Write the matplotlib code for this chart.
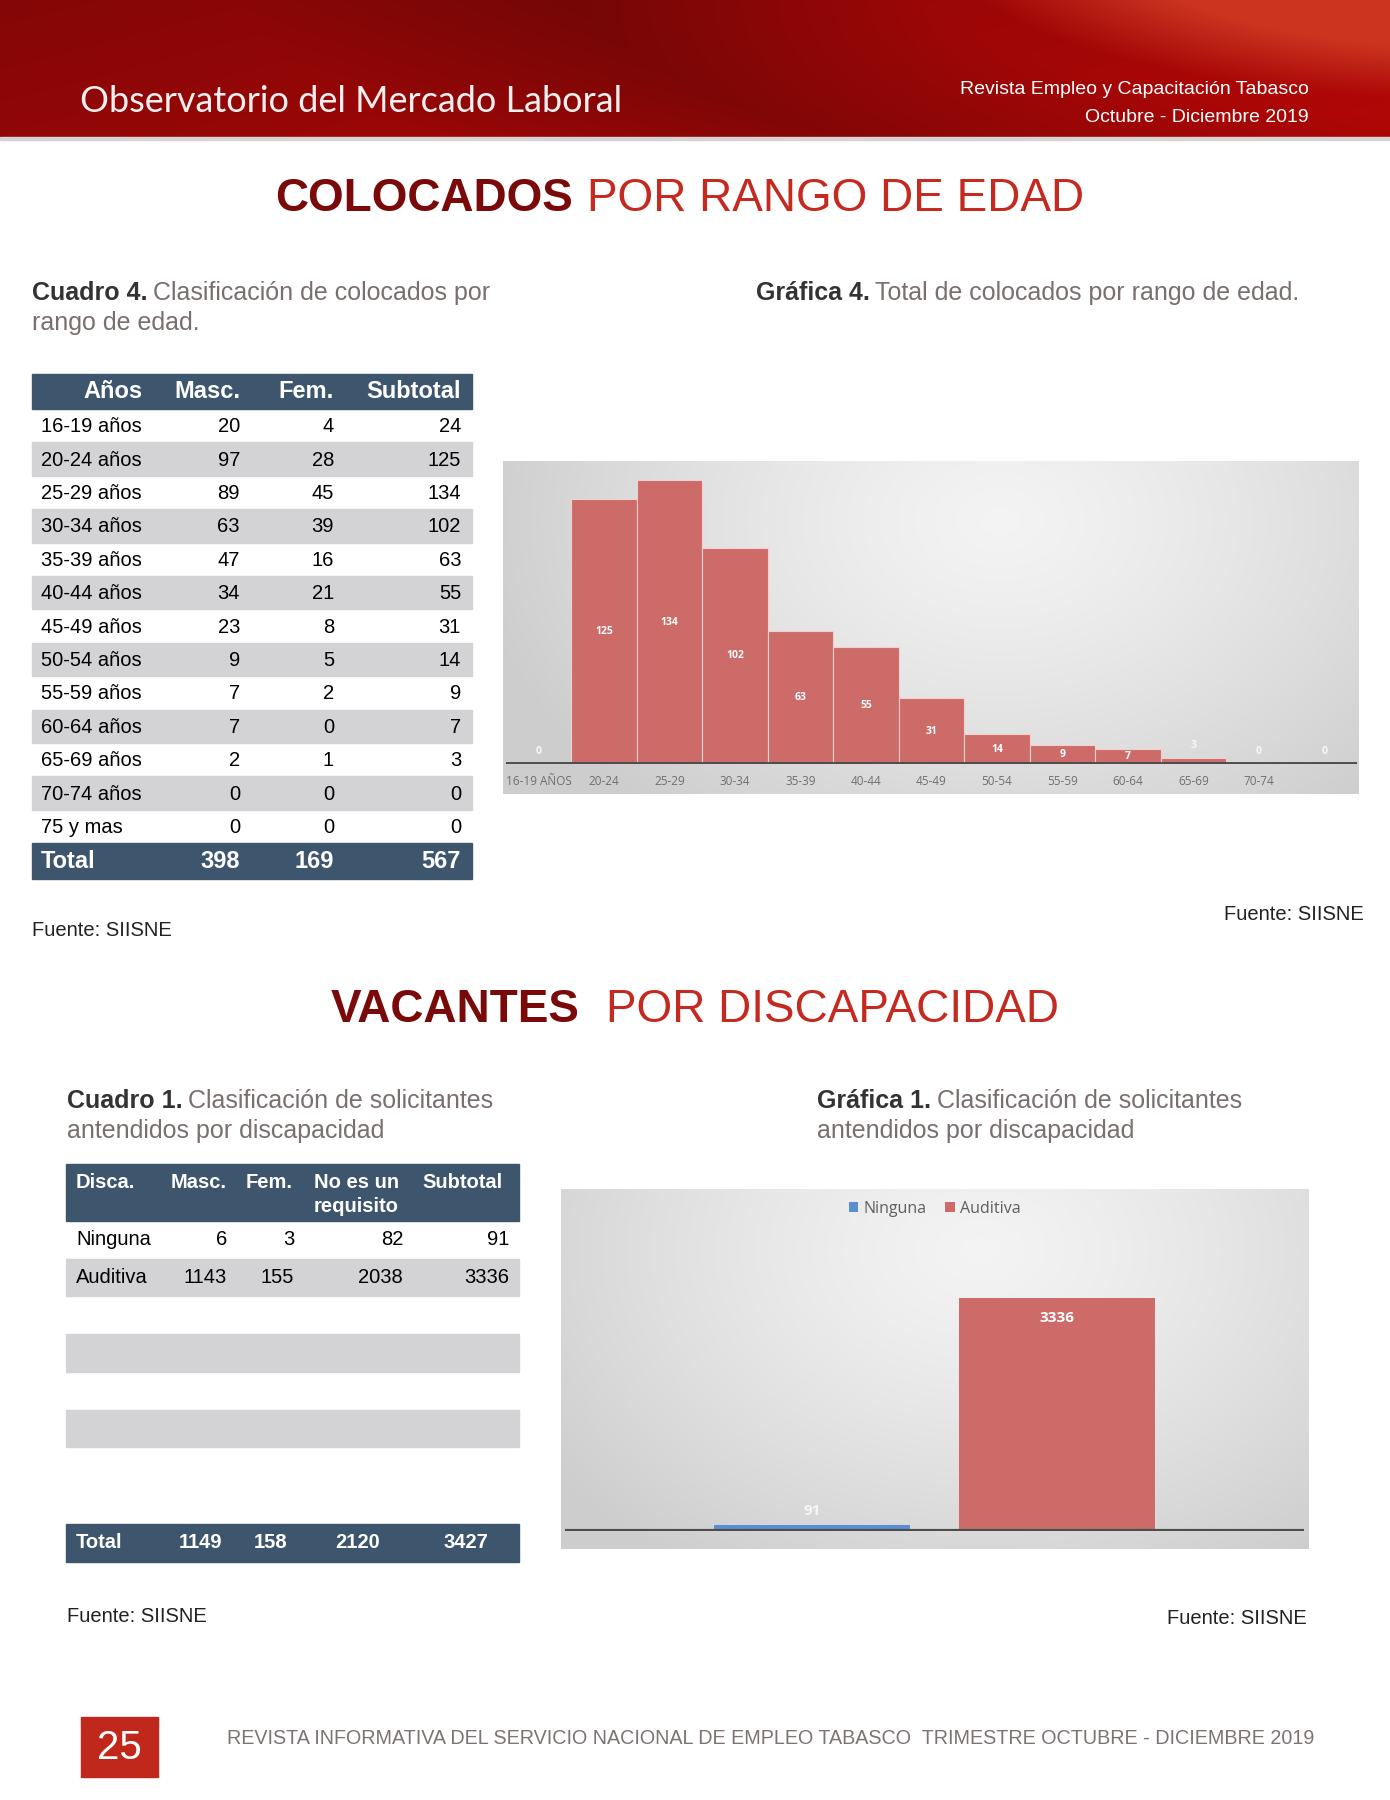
import numpy as np
import matplotlib
matplotlib.use("Agg")
import matplotlib.pyplot as plt
from matplotlib.patches import Rectangle

# ---- data ----
edad_rangos = ['16-19 años', '20-24 años', '25-29 años', '30-34 años', '35-39 años',
               '40-44 años', '45-49 años', '50-54 años', '55-59 años', '60-64 años',
               '65-69 años', '70-74 años', '75 y mas']
edad_masc = [20, 97, 89, 63, 47, 34, 23, 9, 7, 7, 2, 0, 0]
edad_fem = [4, 28, 45, 39, 16, 21, 8, 5, 2, 0, 1, 0, 0]
edad_sub = [24, 125, 134, 102, 63, 55, 31, 14, 9, 7, 3, 0, 0]
edad_tot = [398, 169, 567]

graf4_labels = ['16-19 AÑOS', '20-24', '25-29', '30-34', '35-39', '40-44', '45-49',
                '50-54', '55-59', '60-64', '65-69', '70-74', '']
graf4_vals = [0, 125, 134, 102, 63, 55, 31, 14, 9, 7, 3, 0, 0]

disc_tipos = ['Ninguna', 'Auditiva']
disc_masc = [6, 1143]
disc_fem = [3, 155]
disc_noreq = [82, 2038]
disc_sub = [91, 3336]
disc_tot = [1149, 158, 2120, 3427]

W, H = 1390, 1800
FONT = 'Liberation Sans'
DARK_RED = '#7a0a0a'
RED = '#c42a1f'
SLATE = '#3d566e'
ROWGRAY = '#d3d3d5'
TXTGRAY = '#7a6f6f'
BAR_RED = '#cd6b69'

fig = plt.figure(figsize=(13.9, 18), dpi=100)
bg = fig.add_axes([0, 0, 1, 1], zorder=0)
bg.set_xlim(0, W)
bg.set_ylim(H, 0)
bg.axis('off')

# ---- header band ----
ys, xs = np.mgrid[0:138, 0:W].astype(float)
d = np.sqrt((xs - 1500) ** 2 + ((ys + 60) * 3.48) ** 2)
base = 0.52 + 0.13 * (xs / W) + 0.05 * (ys / 138)
dark = np.clip(1 - np.abs(d - 950) / 330, 0, 1)
bright = np.clip((560 - d) / 180, 0, 1)
r = base * (1 - 0.2 * dark) + bright * (0.80 - base)
g = 0.025 + bright * 0.18
b = 0.025 + bright * 0.10
hdr = np.dstack([r, g, b]).clip(0, 1)
bg.imshow(hdr, extent=(0, W, 138, 0), aspect='auto', zorder=1)
bg.add_patch(Rectangle((0, 137), W, 3, color='#d9d2d2', zorder=2))

bg.text(80, 101, 'Observatorio del Mercado Laboral', family='Lato', fontsize=26,
        color='#f4eeee', va='center', ha='left', zorder=3)
bg.text(1309, 90, 'Revista Empleo y Capacitación Tabasco', family=FONT, fontsize=14,
        color='white', ha='right', va='center', zorder=3)
bg.text(1309, 117, 'Octubre - Diciembre 2019', family=FONT, fontsize=14,
        color='white', ha='right', va='center', zorder=3)


def two_tone(x_split, x_start, y, bold_txt, rest_txt, size):
    bg.text(x_split, y, bold_txt, family=FONT, fontsize=size, weight='bold',
            color=DARK_RED, ha='right', va='center')
    bg.text(x_start, y, rest_txt, family=FONT, fontsize=size,
            color=RED, ha='left', va='center')


def caption(x, y, bold_txt, rest_txt, size=18):
    t = bg.text(x, y, bold_txt, family=FONT, fontsize=size, weight='bold',
                color='#333333', ha='left', va='center')
    bg.annotate(rest_txt, xy=(1, 0.5), xycoords=t, xytext=(4, 0),
                textcoords='offset points', family=FONT, fontsize=size,
                color=TXTGRAY, ha='left', va='center')


two_tone(573, 587, 199, 'COLOCADOS', 'POR RANGO DE EDAD', 33)
two_tone(580, 606, 1010, 'VACANTES', 'POR DISCAPACIDAD', 33)

caption(32, 293, 'Cuadro 4.', 'Clasificación de colocados por')
bg.text(32, 323, 'rango de edad.', family=FONT, fontsize=18, color=TXTGRAY, va='center')
caption(756, 293, 'Gráfica 4.', 'Total de colocados por rango de edad.')

caption(67, 1101, 'Cuadro 1.', 'Clasificación de solicitantes')
bg.text(67, 1131, 'antendidos por discapacidad', family=FONT, fontsize=18, color=TXTGRAY, va='center')
caption(817, 1101, 'Gráfica 1.', 'Clasificación de solicitantes')
bg.text(817, 1131, 'antendidos por discapacidad', family=FONT, fontsize=18, color=TXTGRAY, va='center')

# ---- table 4 ----
tx0, tx1 = 32, 472
bg.add_patch(Rectangle((tx0, 374), tx1 - tx0, 35, color=SLATE))
cols4 = [143, 240, 334, 461]
for x, h in zip(cols4, ['Años', 'Masc.', 'Fem.', 'Subtotal']):
    bg.text(x, 392, h, family=FONT, fontsize=17, weight='bold', color='white',
            ha='right', va='center')
pitch = 33.4
for i, lab in enumerate(edad_rangos):
    y0 = 409 + i * pitch
    if i % 2 == 1:
        bg.add_patch(Rectangle((tx0, y0), tx1 - tx0, pitch, color=ROWGRAY))
    yc = y0 + pitch / 2 + 1
    bg.text(41, yc, lab, family=FONT, fontsize=14.5, color='black', va='center')
    for x, v in zip(cols4[1:], [edad_masc[i], edad_fem[i], edad_sub[i]]):
        bg.text(x, yc, str(v), family=FONT, fontsize=14.5, color='black',
                ha='right', va='center')
bg.add_patch(Rectangle((tx0, 843), tx1 - tx0, 36, color=SLATE))
bg.text(41, 862, 'Total', family=FONT, fontsize=17, weight='bold', color='white', va='center')
for x, v in zip(cols4[1:], edad_tot):
    bg.text(x, 862, str(v), family=FONT, fontsize=17, weight='bold', color='white',
            ha='right', va='center')

bg.text(32, 930, 'Fuente: SIISNE', family=FONT, fontsize=14.5, color='#222222', va='center')
bg.text(1364, 915, 'Fuente: SIISNE', family=FONT, fontsize=14.5, color='#222222',
        ha='right', va='center')

# ---- table 1 (discapacidad) ----
ux0, ux1 = 66, 519
bg.add_patch(Rectangle((ux0, 1164), ux1 - ux0, 57, color=SLATE))
hk = dict(family=FONT, fontsize=14.5, weight='bold', color='white', va='center')
bg.text(76, 1182, 'Disca.', ha='left', **hk)
bg.text(227, 1182, 'Masc.', ha='right', **hk)
bg.text(293, 1182, 'Fem.', ha='right', **hk)
bg.text(314, 1182, 'No es un', ha='left', **hk)
bg.text(314, 1206, 'requisito', ha='left', **hk)
bg.text(503, 1182, 'Subtotal', ha='right', **hk)
rp = 37.7
cols1 = [227, 294, 403, 509]
for i in range(8):
    y0 = 1221 + i * rp
    if i % 2 == 1 and i < 7:
        bg.add_patch(Rectangle((ux0, y0), ux1 - ux0, rp, color=ROWGRAY))
for i, lab in enumerate(disc_tipos):
    yc = 1221 + i * rp + rp / 2
    bg.text(76, yc, lab, family=FONT, fontsize=14.5, color='black', va='center')
    for x, v in zip(cols1, [disc_masc[i], disc_fem[i], disc_noreq[i], disc_sub[i]]):
        bg.text(x, yc, str(v), family=FONT, fontsize=14.5, color='black',
                ha='right', va='center')
bg.add_patch(Rectangle((ux0, 1524), ux1 - ux0, 38, color=SLATE))
bg.text(76, 1542, 'Total', ha='left', **hk)
for x, v in zip([200, 271, 358, 466], disc_tot):
    bg.text(x, 1542, str(v), ha='center', **hk)

bg.text(67, 1616, 'Fuente: SIISNE', family=FONT, fontsize=14.5, color='#222222', va='center')
bg.text(1307, 1619, 'Fuente: SIISNE', family=FONT, fontsize=14.5, color='#222222',
        ha='right', va='center')


# ---- chart backgrounds ----
def gray_box(x0, y0, x1, y1, cx, cy):
    yy, xx = np.mgrid[y0:y1, x0:x1].astype(float)
    rr = np.sqrt(((xx - cx) / 1.4) ** 2 + (yy - cy) ** 2)
    v = 0.955 - 0.15 * np.clip(rr / 380, 0, 1) ** 1.3
    bg.imshow(np.dstack([v, v, v]), extent=(x0, x1, y1, y0), aspect='auto', zorder=1)


gray_box(503, 461, 1359, 794, 1000, 520)
gray_box(561, 1189, 1309, 1549, 980, 1250)
bg.set_xlim(0, W)
bg.set_ylim(H, 0)


def px_axes(x0, y0, x1, y1):
    a = fig.add_axes([x0 / W, 1 - y1 / H, (x1 - x0) / W, (y1 - y0) / H], zorder=2)
    a.patch.set_alpha(0)
    for s in a.spines.values():
        s.set_visible(False)
    return a


# ---- gráfica 4 ----
ax = px_axes(506, 461, 1357, 764)
xpos = np.arange(len(graf4_vals))
ax.bar(xpos, graf4_vals, width=1, color=BAR_RED, edgecolor='#f2d0ce', linewidth=0.8)
ax.axhline(0, color='#4d4d4d', lw=2.8)
ax.set_xlim(-0.5, len(graf4_vals) - 0.5)
ax.set_ylim(0, 143)
ax.set_yticks([])
ax.set_xticks(xpos)
ax.set_xticklabels(graf4_labels, family='Open Sans', fontsize=8.5, color='#6e6e6e')
ax.tick_params(axis='x', length=0, pad=8)
for xv, v in zip(xpos, graf4_vals):
    if v >= 7:
        ax.text(xv, v / 2, str(v), ha='center', va='center', color='white',
                fontsize=7.5, weight='bold', family='Open Sans')
    else:
        ax.annotate(str(v), (xv, v), xytext=(0, 9), textcoords='offset points',
                    ha='center', va='center', color='#f8f8f8', fontsize=7.5,
                    weight='bold', family='Open Sans')

# ---- gráfica 1 ----
ax2 = px_axes(565, 1189, 1304, 1531)
colors2 = ['#5b8dd3', BAR_RED]
offs = [-0.5, 0.5]
handles = []
for xo, v, c, lab in zip(offs, disc_sub, colors2, disc_tipos):
    bh = ax2.bar([xo], [v], width=0.8, color=c, label=lab)
    handles.append(bh)
    if v > 1000:
        ax2.annotate(str(v), (xo, v), xytext=(0, -14), textcoords='offset points',
                     ha='center', va='center', color='white', fontsize=11,
                     weight='bold', family='Open Sans')
    else:
        ax2.annotate(str(v), (xo, v), xytext=(0, 10), textcoords='offset points',
                     ha='center', va='center', color='#f6f6f6', fontsize=11,
                     weight='bold', family='Open Sans')
ax2.axhline(0, color='#4d4d4d', lw=3)
ax2.set_xlim(-1.51, 1.51)
ax2.set_ylim(0, 4900)
ax2.set_xticks([])
ax2.set_yticks([])
leg = ax2.legend(handles=handles, loc='center', bbox_to_anchor=(0.5, 1 - 20 / 342),
                 ncol=2, frameon=False, handlelength=0.6, handleheight=0.6,
                 handletextpad=0.3, columnspacing=1.2,
                 prop={'family': 'Open Sans', 'size': 11.5})
for t in leg.get_texts():
    t.set_color('#5f5f5f')

# ---- footer ----
bg.add_patch(Rectangle((81, 1717), 77, 60, color='#c0281c'))
bg.text(119, 1748, '25', family=FONT, fontsize=29, color='white', ha='center', va='center')
bg.text(227, 1739, 'REVISTA INFORMATIVA DEL SERVICIO NACIONAL DE EMPLEO TABASCO  '
        'TRIMESTRE OCTUBRE - DICIEMBRE 2019', family=FONT, fontsize=14.2,
        color='#7d7373', ha='left', va='center')

fig.savefig('out.png', dpi=100)
